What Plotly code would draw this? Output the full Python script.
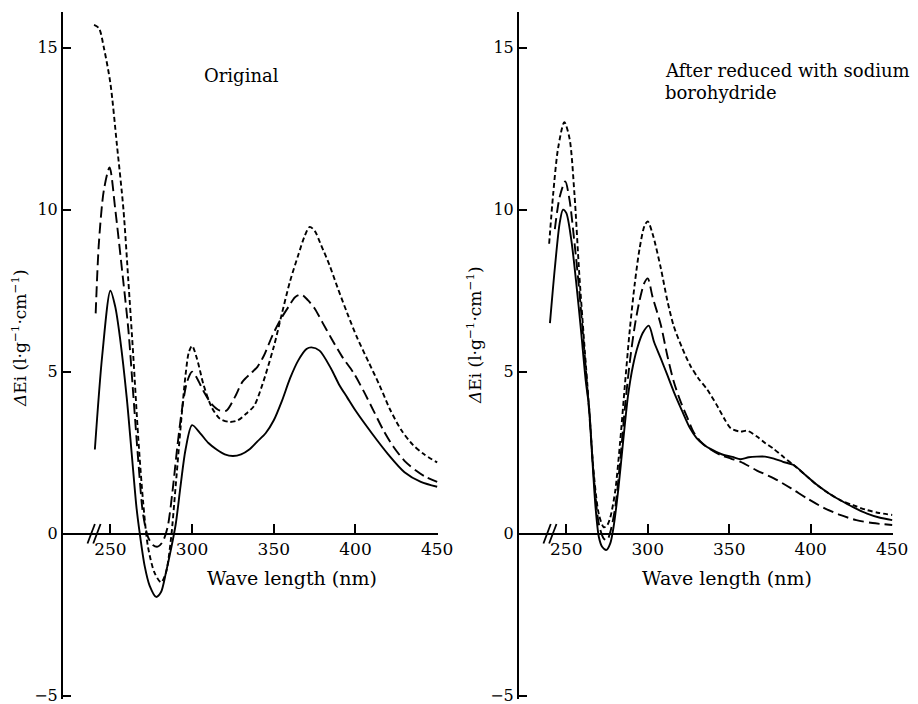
import plotly.graph_objects as go

# ---------------- data ----------------
# Left panel: "Original"
L_short_x = [240, 243, 246, 250, 254, 258, 261, 264, 267, 270, 273, 277, 281, 284, 287, 290, 293, 296, 298, 300,
             303, 307, 312, 317, 323, 328, 333, 338, 343, 350, 355, 360, 365, 369, 372, 375, 379, 384, 389, 395,
             401, 408, 415, 421, 428, 435, 442, 450]
L_short_y = [15.7, 15.6, 15.0, 13.9, 12.0, 10.0, 7.8, 5.5, 3.0, 1.0, -0.4, -1.2, -1.5, -1.2, -0.2, 1.5, 3.3, 4.9, 5.6, 5.8,
             5.4, 4.6, 3.9, 3.55, 3.45, 3.5, 3.7, 3.95, 4.6, 5.77, 6.8, 7.8, 8.6, 9.2, 9.47, 9.35, 8.9, 8.3, 7.6, 6.8,
             6.05, 5.3, 4.55, 3.85, 3.2, 2.75, 2.45, 2.2]

L_long_x = [241, 243, 246, 249.5, 253, 257, 261, 264, 267, 270, 273, 276, 279, 282, 285, 288, 291, 294, 297, 300,
            303, 307, 312, 317, 321, 326, 331, 336, 340, 344, 349, 354, 359, 363, 367, 371, 375, 380, 385, 392,
            399, 405, 411, 417, 423, 430, 437, 443, 450]
L_long_y = [6.8, 9.0, 10.6, 11.3, 10.0, 8.2, 6.3, 4.3, 2.3, 0.6, -0.1, -0.35, -0.4, -0.25, 0.2, 1.3, 2.7, 3.9, 4.7, 5.0,
            4.8, 4.4, 4.0, 3.8, 3.8, 4.2, 4.7, 4.95, 5.15, 5.5, 6.1, 6.6, 7.0, 7.3, 7.38, 7.2, 6.95, 6.5, 6.05, 5.45,
            4.95, 4.4, 3.8, 3.2, 2.7, 2.25, 1.95, 1.75, 1.6]

L_solid_x = [240.5, 245, 250, 253, 256, 260, 263, 266, 268, 271, 274, 278, 281, 284, 287, 290, 293, 296, 300,
             305, 310, 315, 320, 325, 330, 335, 340, 345, 350, 355, 360, 365, 370, 373, 378, 385, 390, 395, 400,
             410, 420, 430, 440, 450]
L_solid_y = [2.6, 5.5, 7.5, 7.0, 6.0, 4.2, 2.5, 0.8, 0.0, -1.0, -1.6, -1.95, -1.8, -1.2, -0.5, 0.3, 1.5, 2.6, 3.35,
             3.1, 2.8, 2.6, 2.45, 2.4, 2.45, 2.6, 2.85, 3.1, 3.5, 4.1, 4.8, 5.35, 5.7, 5.75, 5.65, 5.1, 4.6, 4.2, 3.8,
             3.1, 2.45, 1.9, 1.6, 1.45]

# Right panel: "After reduced with sodium borohydride"
R_short_x = [239.5, 242, 245, 248.8, 252, 255, 258, 261, 264, 267, 270, 273, 275, 277, 280, 283, 286, 289, 292, 295,
             298, 300, 303, 308, 312, 316, 321, 326, 331, 336.5, 342, 347, 351, 357, 361, 367, 372, 377, 383, 389.5,
             397, 404, 411, 418, 426, 434.6, 442, 450]
R_short_y = [8.95, 10.5, 11.9, 12.7, 12.2, 10.5, 8.0, 5.9, 3.9, 1.8, 0.6, 0.2, 0.25, 0.5, 1.3, 2.8, 4.6, 6.3, 7.7, 8.8,
             9.5, 9.64, 9.25, 8.2, 7.2, 6.4, 5.75, 5.2, 4.8, 4.45, 4.0, 3.55, 3.25, 3.15, 3.18, 3.0, 2.8, 2.63, 2.38, 2.12,
             1.8, 1.5, 1.25, 1.04, 0.88, 0.73, 0.64, 0.58]

R_long_x = [243, 246, 249.4, 252, 255, 258, 261, 264, 267, 270, 273, 275, 277, 280, 283, 286, 289, 292, 295, 298,
            300, 303, 308, 312, 316, 320, 324.5, 328, 332.5, 338, 344.7, 351, 357, 367, 377.4, 388, 397.8, 408, 418,
            428, 438, 450]
R_long_y = [9.4, 10.4, 10.87, 10.3, 9.0, 7.5, 5.7, 3.8, 1.7, 0.3, -0.15, -0.2, 0.05, 0.8, 2.2, 3.9, 5.3, 6.4, 7.2, 7.75,
            7.88, 7.3, 6.45, 5.5, 4.69, 4.1, 3.56, 3.15, 2.84, 2.62, 2.43, 2.32, 2.22, 1.95, 1.71, 1.4, 1.09, 0.8, 0.58,
            0.42, 0.33, 0.27]

R_solid_x = [240, 243, 246, 248, 250, 253, 256, 259, 262, 264, 266, 268, 270, 272, 274.7, 277, 279, 282, 285, 288,
             291, 294, 297, 300.6, 304, 308, 312, 316, 321, 326, 330, 334.5, 340, 346.7, 352, 357, 362, 367, 372,
             377.4, 383, 389.5, 397, 404, 411, 418, 426, 434.6, 442, 450]
R_solid_y = [6.5, 8.2, 9.6, 10.0, 9.9, 9.1, 7.8, 6.3, 4.7, 3.9, 2.3, 0.8, -0.1, -0.4, -0.5, -0.3, 0.2, 1.4, 2.9, 4.3,
             5.2, 5.8, 6.2, 6.42, 5.9, 5.41, 4.9, 4.38, 3.8, 3.25, 2.95, 2.74, 2.58, 2.43, 2.37, 2.3, 2.36, 2.38, 2.38,
             2.32, 2.22, 2.12, 1.8, 1.5, 1.25, 1.04, 0.82, 0.62, 0.5, 0.42]

x_tickvals = [250, 300, 350, 400, 450]
x_ticktext = ["250", "300", "350", "400", "450"]
y_tickvals = [-5, 0, 5, 10, 15]
y_ticktext = ["\u22125", "0", "5", "10", "15"]

X_RANGE = [221, 450.5]
Y_RANGE = [-5.1, 16.1]

# ---------------- styling ----------------
FONT = "DejaVu Serif"
SHORT = "5px,3px"
LONG = "11px,5px"
LW = 1.9

W, H = 918, 704
ML, MR, MT, MB = 63, 25, 12, 5
PW = W - ML - MR
PH = H - MT - MB

fig = go.Figure()

def add(x, y, dash, xa, ya):
    fig.add_trace(go.Scatter(x=x, y=y, mode="lines", xaxis=xa, yaxis=ya,
                             line=dict(color="black", width=LW, dash=dash, shape="spline", smoothing=0.8),
                             showlegend=False, hoverinfo="skip"))

add(L_short_x, L_short_y, SHORT, "x", "y")
add(L_long_x, L_long_y, LONG, "x", "y")
add(L_solid_x, L_solid_y, "solid", "x", "y")
add(R_short_x, R_short_y, SHORT, "x2", "y2")
add(R_long_x, R_long_y, LONG, "x2", "y2")
add(R_solid_x, R_solid_y, "solid", "x2", "y2")

zero_pos = (0 - Y_RANGE[0]) / (Y_RANGE[1] - Y_RANGE[0])

def xaxis(dom):
    return dict(domain=dom, range=X_RANGE, anchor="free", position=zero_pos,
                showline=True, linecolor="black", linewidth=2,
                ticks="inside", ticklen=9, tickwidth=2, tickcolor="black",
                tickvals=x_tickvals, ticktext=x_ticktext, showgrid=False, zeroline=False,
                ticklabeloverflow="allow",
                tickfont=dict(family=FONT, size=17, color="black"), fixedrange=True)

def yaxis(anchor):
    return dict(domain=[0, 1], range=Y_RANGE, anchor=anchor,
                showline=True, linecolor="black", linewidth=2,
                ticks="inside", ticklen=8, tickwidth=2, tickcolor="black",
                tickvals=y_tickvals, ticktext=y_ticktext, showgrid=False, zeroline=False,
                ticklabeloverflow="allow",
                tickfont=dict(family=FONT, size=16, color="black"), fixedrange=True)

def px_x(wx):  # pixel x -> paper fraction
    return (wx - ML) / PW
def px_y(wy):  # pixel y -> paper fraction
    return 1 - (wy - MT) / PH

L_DOM = [0, px_x(438)]
R_DOM = [px_x(519), 1.0]

fig.update_layout(
    width=W, height=H,
    margin=dict(l=ML, r=MR, t=MT, b=MB, autoexpand=False),
    paper_bgcolor="white", plot_bgcolor="white",
    xaxis=xaxis(L_DOM), xaxis2=xaxis(R_DOM),
    yaxis=yaxis("x"), yaxis2=yaxis("x2"),
    font=dict(family=FONT, color="black"),
)

# axis break marks "//"
for xa, ya in (("x", "y"), ("x2", "y2")):
    for x0 in (236.0, 239.5):
        fig.add_shape(type="line", xref=xa, yref=ya, x0=x0, x1=x0 + 4.5, y0=-0.3, y1=0.3,
                      line=dict(color="black", width=1.8))

ylabel = "<i>\u0394</i>Ei (l\u00b7g<sup>\u22121</sup>\u00b7cm<sup>\u22121</sup>)"

anns = [
    dict(text=ylabel, x=px_x(19), y=px_y(338), textangle=-90, font=dict(size=17)),
    dict(text=ylabel, x=px_x(474), y=px_y(335), textangle=-90, font=dict(size=17)),
    dict(text="Wave length (nm)", x=px_x(292), y=px_y(578), font=dict(size=19)),
    dict(text="Wave length (nm)", x=px_x(727), y=px_y(578), font=dict(size=19)),
    dict(text="Original", x=px_x(202), y=px_y(75), xanchor="left", font=dict(size=18)),
    dict(text="After reduced with sodium", x=px_x(663), y=px_y(70), xanchor="left", font=dict(size=18)),
    dict(text="borohydride", x=px_x(663), y=px_y(92), xanchor="left", font=dict(size=18)),
]
for a in anns:
    a.setdefault("xanchor", "center")
    a.setdefault("yanchor", "middle")
    fig.add_annotation(xref="paper", yref="paper", showarrow=False, **a)

# remove the default 8px page margin so the figure sits at the window origin
fig.write_html("out.html", config={"displayModeBar": False},
               post_script="document.body.style.margin='0';")
